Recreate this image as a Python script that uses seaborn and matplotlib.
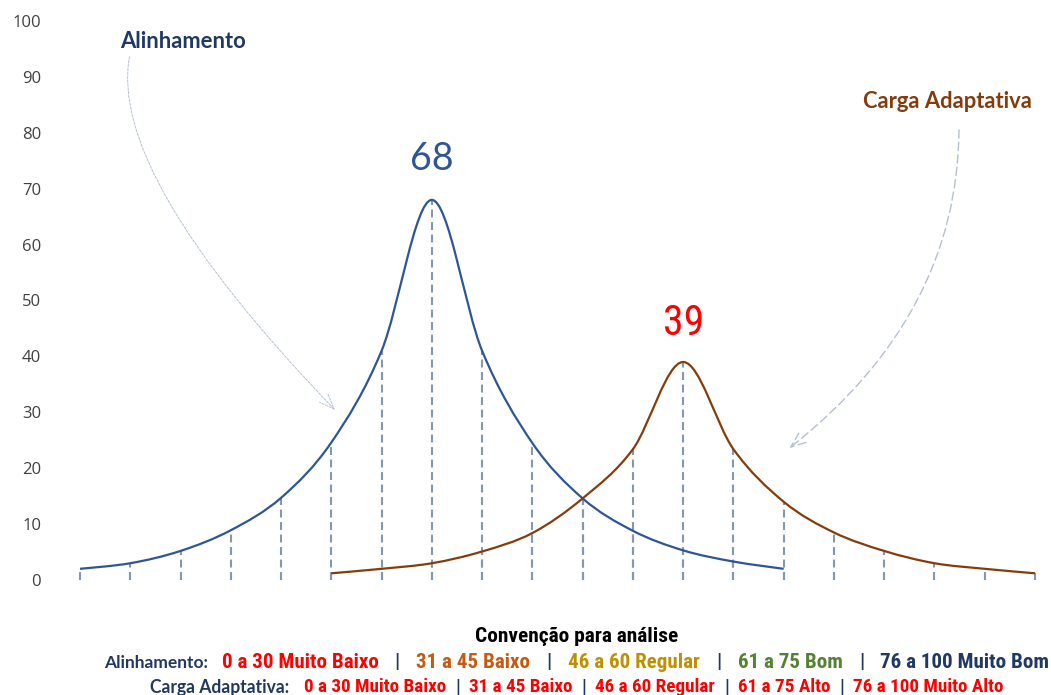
import matplotlib
matplotlib.use("Agg")
import matplotlib.pyplot as plt
from matplotlib import font_manager
from matplotlib.path import Path
from matplotlib.patches import PathPatch
import seaborn as sns

# ---- data -------------------------------------------------------------
alinhamento_x = list(range(0, 15))
alinhamento_y = [2.0, 3.0, 5.2, 8.9, 14.7, 24.6, 41.0, 68.0, 41.0, 24.5, 14.6, 8.8, 5.3, 3.3, 2.0]

carga_x = list(range(5, 20))
carga_y = [1.2, 2.0, 3.0, 5.1, 8.4, 14.6, 23.4, 39.0, 23.4, 14.0, 8.5, 5.2, 3.0, 2.0, 1.2]

y_ticks = [0, 10, 20, 30, 40, 50, 60, 70, 80, 90, 100]

legend_title = "Convenção para análise"
alinhamento_label = "Alinhamento:"
alinhamento_ranges = ["0 a 30 Muito Baixo", "31 a 45 Baixo", "46 a 60 Regular",
                      "61 a 75 Bom", "76 a 100 Muito Bom"]
carga_label = "Carga Adaptativa:"
carga_ranges = ["0 a 30 Muito Baixo", "31 a 45 Baixo", "46 a 60 Regular",
                "61 a 75 Alto", "76 a 100 Muito Alto"]

# ---- style ------------------------------------------------------------
BLUE = "#2f5597"
BROWN = "#843c0c"
NAVY = "#1f3864"
GRID = "#8497b0"
ARROW = "#b4c0d3"
RED = "#ff0000"
alinhamento_colors = [RED, "#c55a11", "#bf9000", "#548235", NAVY]
carga_colors = [RED] * 5

_installed = {f.name for f in font_manager.fontManager.ttflist}


def pick(*names):
    for n in names:
        if n in _installed:
            return n
    return "DejaVu Sans"


NARROW = pick("Liberation Sans Narrow", "DejaVu Sans Condensed", "Roboto Condensed",
              "Open Sans Condensed", "Roboto", "Lato")
HUMAN = pick("Lato", "Open Sans")

sns.set_theme(style="white")
plt.rcParams["font.family"] = ["Open Sans", "DejaVu Sans"]

W, H, DPI = 1051, 695, 100
fig = plt.figure(figsize=(W / DPI, H / DPI), dpi=DPI)
fig.patch.set_facecolor("white")

# axes spans the slot range exactly
x0, x1, ytop, ybot = 80, 1035, 21, 580
ax = fig.add_axes([x0 / W, (H - ybot) / H, (x1 - x0) / W, (ybot - ytop) / H])
ax.set_xlim(0, 19)
ax.set_ylim(0, 100)
ax.set_facecolor("white")
sns.despine(ax=ax, left=True, bottom=True)
ax.set_xticks([])
ax.set_yticks(y_ticks)
ax.set_yticklabels([str(v) for v in y_ticks], color="#404040", fontsize=12)
ax.tick_params(axis="y", length=0, pad=28)


def smooth_path(xs, ys):
    """Cubic Bezier path through the points (Catmull-Rom tangents)."""
    pts = list(zip(xs, ys))
    n = len(pts)
    verts = [pts[0]]
    codes = [Path.MOVETO]
    for i in range(n - 1):
        p0 = pts[i - 1] if i > 0 else pts[i]
        p1 = pts[i]
        p2 = pts[i + 1]
        p3 = pts[i + 2] if i + 2 < n else pts[i + 1]
        c1 = (p1[0] + (p2[0] - p0[0]) / 6, p1[1] + (p2[1] - p0[1]) / 6)
        c2 = (p2[0] - (p3[0] - p1[0]) / 6, p2[1] - (p3[1] - p1[1]) / 6)
        verts += [c1, c2, p2]
        codes += [Path.CURVE4] * 3
    return Path(verts, codes)


# dashed drop lines from each point down to the baseline
for xs, ys in ((alinhamento_x, alinhamento_y), (carga_x, carga_y)):
    ax.vlines(xs, 0, ys, colors=GRID, linewidth=1.5,
              linestyles=[(0, (3.8, 2.2))], zorder=1, clip_on=False)

# smoothed score curves
for xs, ys, col in ((alinhamento_x, alinhamento_y, BLUE), (carga_x, carga_y, BROWN)):
    ax.add_patch(PathPatch(smooth_path(xs, ys), facecolor="none", edgecolor=col,
                           linewidth=1.6, zorder=3, clip_on=False))

# peak value labels
ia = alinhamento_y.index(max(alinhamento_y))
ax.annotate(f"{alinhamento_y[ia]:g}", (alinhamento_x[ia], alinhamento_y[ia]),
            xytext=(0, 21.5), textcoords="offset points", ha="center", va="baseline",
            fontsize=27, color=BLUE, family=[HUMAN, "DejaVu Sans"])
ic = carga_y.index(max(carga_y))
ax.annotate(f"{carga_y[ic]:g}", (carga_x[ic], carga_y[ic]),
            xytext=(0, 19.5), textcoords="offset points", ha="center", va="baseline",
            fontsize=30, color=RED, family=[NARROW, "DejaVu Sans"])

# series call-outs with curved dashed arrows
fig.text(183 / W, 1 - 42 / H, "Alinhamento", ha="center", va="center",
         fontsize=15.8, fontweight="bold", color=NAVY, family=[HUMAN, "DejaVu Sans"])
fig.text(947 / W, 1 - 102 / H, "Carga Adaptativa", ha="center", va="center",
         fontsize=15.8, fontweight="bold", color=BROWN, family=[HUMAN, "DejaVu Sans"])

ax.annotate("", xy=(337 / W, 1 - 412 / H), xycoords="figure fraction",
            xytext=(130 / W, 1 - 54 / H), textcoords="figure fraction",
            arrowprops=dict(arrowstyle="->,head_length=0.9,head_width=0.35",
                            connectionstyle="angle3,angleA=78,angleB=-46",
                            color=ARROW, linewidth=0.7, linestyle=(0, (2.5, 1.5))))
ax.annotate("", xy=(787 / W, 1 - 450 / H), xycoords="figure fraction",
            xytext=(959 / W, 1 - 127 / H), textcoords="figure fraction",
            arrowprops=dict(arrowstyle="->,head_length=0.9,head_width=0.35",
                            connectionstyle="angle3,angleA=-90,angleB=38",
                            color=ARROW, linewidth=1.0, linestyle=(0, (6, 3))))

# ---- reading guide beneath the chart -------------------------------------
renderer = fig.canvas.get_renderer()


def fitted_text(x_px, y_px, text, width_px, size, **kw):
    """Centred text whose size is tuned to span the given width."""
    t = fig.text(x_px / W, 1 - y_px / H, text, ha="center", va="center",
                 fontsize=size, **kw)
    w = t.get_window_extent(renderer).width
    t.set_fontsize(size * width_px / w)
    return t


fitted_text(577, 636, legend_title, 205, 11.5, fontweight="bold", color="black",
            family=[NARROW, "DejaVu Sans"])


def colored_line(y_px, label, label_size, items, colors, size, gap, sep_gap, target):
    pieces = [(label, NAVY, label_size, [HUMAN, "DejaVu Sans"], gap)]
    for k, (t, c) in enumerate(zip(items, colors)):
        pieces.append((t, c, size, [NARROW, "DejaVu Sans"], sep_gap))
        if k < len(items) - 1:
            pieces.append(("|", NAVY, size, [NARROW, "DejaVu Sans"], sep_gap))
    texts = []
    for t, c, s, fam, g in pieces:
        txt = fig.text(0, 1 - y_px / H, t, ha="left", va="center", fontsize=s,
                       fontweight="bold", color=c, family=fam)
        texts.append((txt, g))
    widths = [tx.get_window_extent(renderer).width for tx, _ in texts]
    gaps = sum(g for _, g in texts[:-1])
    # scale the font sizes so the whole line spans the target width
    scale = (target - gaps) / sum(widths)
    for (tx, _), w in zip(texts, widths):
        tx.set_fontsize(tx.get_fontsize() * scale)
    widths = [w * scale for w in widths]
    x = 577 - target / 2
    for (tx, g), w in zip(texts, widths):
        tx.set_x(x / W)
        x += w + g


colored_line(663, alinhamento_label, 9.5, alinhamento_ranges, alinhamento_colors,
             11.5, 13, 16, 945)
colored_line(687, carga_label, 9.0, carga_ranges, carga_colors, 9.8, 13, 9, 853)

fig.savefig("out.png", dpi=DPI, facecolor="white")
